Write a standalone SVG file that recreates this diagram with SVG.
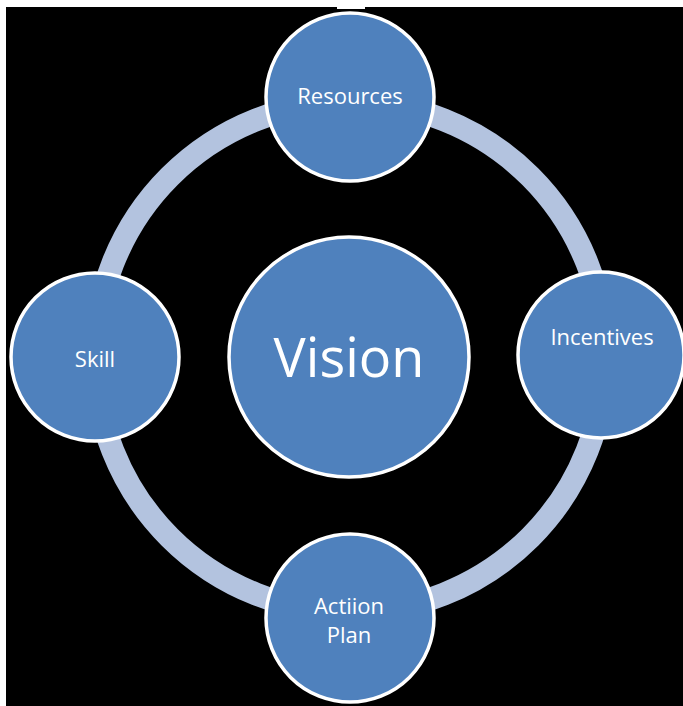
<svg xmlns="http://www.w3.org/2000/svg" width="683" height="706" viewBox="0 0 683 706">
<style>
.node{fill:#4F81BD;stroke:#FFFFFF;stroke-width:3.5}
.lbl{font-family:"Open Sans","Liberation Sans",sans-serif;fill:#FFFFFF;text-anchor:middle;font-size:22px}
.ring{fill:none;stroke:#B3C3DF;stroke-width:23}
</style>
<rect x="0" y="0" width="683" height="706" fill="#FFFFFF"/>
<rect x="6" y="7" width="677" height="699" fill="#000000"/>
<rect x="337" y="7" width="28" height="2" fill="#FFFFFF"/>
<g id="connectors">
<circle class="ring" cx="350" cy="357" r="255"/>
</g>
<g id="vision">
<circle class="node" cx="349" cy="357" r="120"/>
<text class="lbl" x="349" y="377" style="font-size:54px">Vision</text>
</g>
<g id="resources">
<circle class="node" cx="350" cy="97" r="84"/>
<text class="lbl" x="350" y="104">Resources</text>
</g>
<g id="incentives">
<circle class="node" cx="601" cy="355" r="83"/>
<text class="lbl" x="602" y="345">Incentives</text>
</g>
<g id="skill">
<circle class="node" cx="95" cy="357" r="84"/>
<text class="lbl" x="95" y="367">Skill</text>
</g>
<g id="action-plan">
<circle class="node" cx="350" cy="618" r="84"/>
<text class="lbl" x="349" y="614">Actiion</text>
<text class="lbl" x="349" y="643">Plan</text>
</g>
</svg>
